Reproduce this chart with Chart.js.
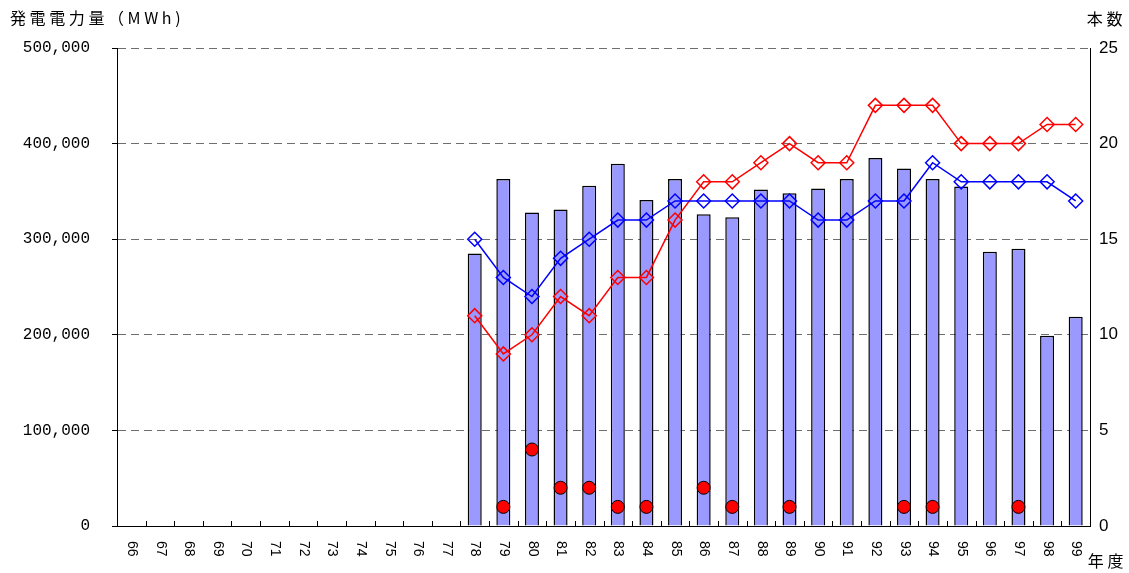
<!DOCTYPE html>
<html lang="ja">
<head>
<meta charset="utf-8">
<script src="https://cdn.jsdelivr.net/npm/chart.js@4.4.1/dist/chart.umd.min.js"></script>
<style>
  html, body { margin: 0; padding: 0; background: #fff; }
  #wrap { width: 1129px; height: 573px; }
</style>
</head>
<body>
<div id="wrap"><canvas id="chart" width="1129" height="573"></canvas></div>
<script>
// 年度 (66〜99)
const years = ['66','67','68','69','70','71','72','73','74','75','76','77',
               '78','79','80','81','82','83','84','85','86','87','88',
               '89','90','91','92','93','94','95','96','97','98','99'];

// 発電電力量 (MWh) - 左軸
const generation = [null,null,null,null,null,null,null,null,null,null,null,null,
  285000,363000,328000,331000,356000,379000,341000,363000,326000,323000,352000,
  348000,353000,363000,385000,374000,363000,355000,287000,290000,199000,219000];

// 本数 - 右軸 (赤線)
const countRed = [null,null,null,null,null,null,null,null,null,null,null,null,
  11,9,10,12,11,13,13,16,18,18,19,20,19,19,22,22,22,20,20,20,21,21];

// 本数 - 右軸 (青線)
const countBlue = [null,null,null,null,null,null,null,null,null,null,null,null,
  15,13,12,14,15,16,16,17,17,17,17,17,16,16,17,17,19,18,18,18,18,17];

// 本数 - 右軸 (赤丸)
const countDots = [null,null,null,null,null,null,null,null,null,null,null,null,
  null,1,4,2,2,1,1,null,2,1,null,1,null,null,null,1,1,null,null,1,null,null];

const leftTicks = { min: 0, max: 500000, step: 100000 };
const rightTicks = { min: 0, max: 25, step: 5 };

// 軸まわりの文字と上向きの目盛り線
const decorations = {
  id: 'decorations',
  afterDraw(chart) {
    const { ctx, chartArea, scales } = chart;
    const x = scales.x;
    ctx.save();

    // 横軸の目盛り (区切り位置、上向き)
    ctx.strokeStyle = '#000';
    ctx.lineWidth = 1;
    ctx.beginPath();
    for (let i = 1; i < years.length; i++) {
      const px = Math.round((x.getPixelForTick(i - 1) + x.getPixelForTick(i)) / 2) + 0.5;
      ctx.moveTo(px, chartArea.bottom);
      ctx.lineTo(px, chartArea.bottom - 5);
    }
    ctx.stroke();

    // 年度ラベル (縦書き、上から下へ)
    ctx.fillStyle = '#000';
    ctx.font = '14px "Liberation Sans"';
    ctx.textAlign = 'left';
    ctx.textBaseline = 'middle';
    years.forEach((label, i) => {
      ctx.save();
      ctx.translate(x.getPixelForTick(i) + 0.5, chartArea.bottom + 15);
      ctx.rotate(Math.PI / 2);
      ctx.fillText(label, 0, 0);
      ctx.restore();
    });

    // 軸タイトル
    ctx.font = '16px "Noto Sans CJK JP"';
    ctx.letterSpacing = '3.6px';
    ctx.textAlign = 'left';
    ctx.fillText('発電電力量（MWh)', 10, 18);
    ctx.textAlign = 'right';
    ctx.fillText('本数', 1126, 19);
    ctx.fillText('年度', 1127, 561);
    ctx.restore();
  }
};

new Chart(document.getElementById('chart'), {
  data: {
    labels: years,
    datasets: [
      {
        type: 'bar',
        label: '発電電力量',
        data: generation,
        yAxisID: 'y',
        backgroundColor: '#9999FF',
        borderColor: '#000',
        borderWidth: 1.5,
        borderSkipped: 'start',
        inflateAmount: 0,
        categoryPercentage: 1,
        barPercentage: 0.49,
        order: 3
      },
      {
        type: 'line',
        label: '本数(赤)',
        data: countRed,
        yAxisID: 'y2',
        borderColor: '#FF0000',
        borderWidth: 1.5,
        pointStyle: 'rectRot',
        pointRadius: 7,
        pointBorderWidth: 1.5,
        pointBorderColor: '#FF0000',
        pointBackgroundColor: 'rgba(0,0,0,0)',
        tension: 0,
        order: 2
      },
      {
        type: 'line',
        label: '本数(青)',
        data: countBlue,
        yAxisID: 'y2',
        borderColor: '#0000FF',
        borderWidth: 1.5,
        pointStyle: 'rectRot',
        pointRadius: 7,
        pointBorderWidth: 1.5,
        pointBorderColor: '#0000FF',
        pointBackgroundColor: 'rgba(0,0,0,0)',
        tension: 0,
        order: 1
      },
      {
        type: 'line',
        label: '本数(丸)',
        data: countDots,
        yAxisID: 'y2',
        showLine: false,
        pointStyle: 'circle',
        pointRadius: 6.5,
        pointBorderWidth: 1,
        pointBorderColor: '#000',
        pointBackgroundColor: '#FF0000',
        order: 0
      }
    ]
  },
  options: {
    responsive: false,
    animation: false,
    devicePixelRatio: 1,
    layout: { padding: { top: 48, left: 0, right: 0, bottom: 0 } },
    plugins: {
      legend: { display: false },
      tooltip: { enabled: false }
    },
    scales: {
      x: {
        offset: true,
        grid: { display: false },
        border: { display: true, color: '#000', width: 1 },
        ticks: { display: false },
        afterFit(scale) { scale.height = 47; }
      },
      y: {
        position: 'left',
        min: leftTicks.min,
        max: leftTicks.max,
        grid: {
          color: (c) => c.tick && c.tick.value === 0 ? 'rgba(0,0,0,0)' : '#6e6e6e',
          lineWidth: 1,
          tickColor: '#000',
          tickLength: 5
        },
        border: { display: true, color: '#000', width: 1, dash: [8, 5] },
        ticks: {
          stepSize: leftTicks.step,
          padding: 22,
          color: '#000',
          font: { family: '"Liberation Mono"', size: 16 },
          callback: (v) => v.toLocaleString('en-US')
        },
        afterFit(scale) { scale.width = 117; }
      },
      y2: {
        position: 'right',
        min: rightTicks.min,
        max: rightTicks.max,
        grid: { drawOnChartArea: false, drawTicks: false },
        border: { display: true, color: '#000', width: 1 },
        ticks: {
          stepSize: rightTicks.step,
          padding: 9,
          color: '#000',
          font: { family: '"Liberation Sans"', size: 17 }
        },
        afterFit(scale) { scale.width = 39; }
      }
    }
  },
  plugins: [decorations]
});
</script>
</body>
</html>
